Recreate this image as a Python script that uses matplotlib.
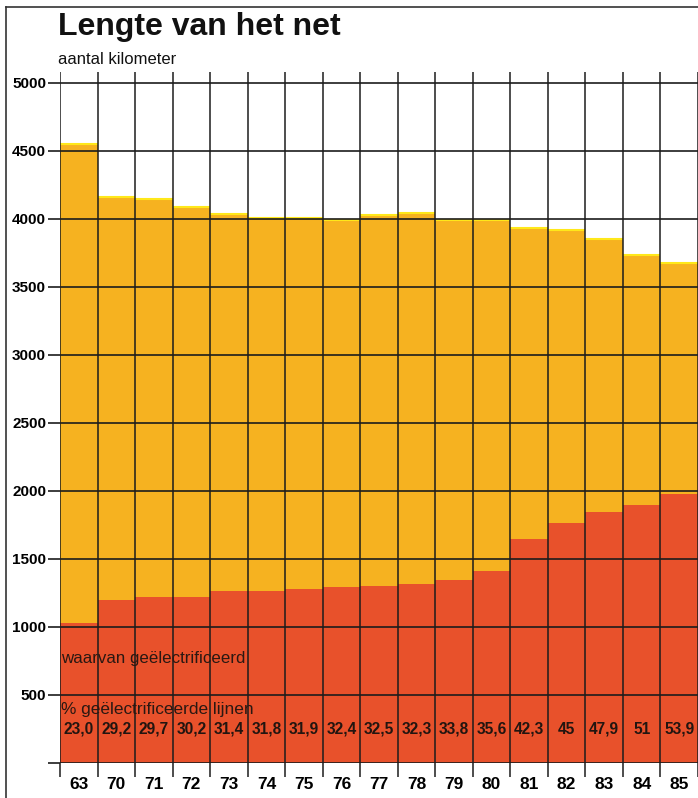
import numpy as np
import matplotlib.pyplot as plt
from matplotlib.lines import Line2D

# data
years = ['63', '70', '71', '72', '73', '74', '75', '76', '77', '78',
         '79', '80', '81', '82', '83', '84', '85']
total_km = [4555, 4165, 4150, 4085, 4040, 4010, 4005, 3995, 4027, 4045,
            3995, 3990, 3932, 3917, 3855, 3733, 3679]
electric_km = [1032, 1196, 1223, 1223, 1265, 1265, 1280, 1294, 1304, 1314,
               1343, 1412, 1650, 1762, 1849, 1900, 1981]
pct_labels = ['23,0', '29,2', '29,7', '30,2', '31,4', '31,8', '31,9', '32,4',
              '32,5', '32,3', '33,8', '35,6', '42,3', '45', '47,9', '51', '53,9']
yticks = [500, 1000, 1500, 2000, 2500, 3000, 3500, 4000, 4500, 5000]

yellow = '#f6b220'
red = '#e8512b'
ink = '#1c1c1c'
plt.rcParams['font.family'] = ['Liberation Sans', 'DejaVu Sans']

W, H = 698, 798
fig = plt.figure(figsize=(W / 100, H / 100), dpi=100)

# axes placed in pixel terms: x from 60 to right edge, y 0 at 763, 5000 at 83
x0, y0 = 60, 763
px_per_unit = (763 - 83) / 5000
ytop = 5080
ax_h = ytop * px_per_unit
ax = fig.add_axes([x0 / W, (H - y0) / H, (W - x0) / W, ax_h / H])

n = len(years)
x = np.arange(n)
colw = 37.75
ax.set_xlim(0, (W - x0) / colw)
ax.set_ylim(0, ytop)

ax.bar(x, total_km, width=1.0, align='edge', color=yellow, linewidth=0, zorder=1)
# thin bright rim on top of each column
ax.hlines(total_km, x, x + 1, colors='#ffe81a', linewidth=1.5, zorder=1.5)
ax.bar(x, electric_km, width=1.0, align='edge', color=red, linewidth=0, zorder=2)

# grid drawn over the columns
for yv in yticks:
    ax.axhline(yv, color=ink, linewidth=1.2, zorder=3)
ax.axhline(0, color=ink, linewidth=1.2, zorder=3)
for xv in range(n + 1):
    ax.axvline(xv, color=ink, linewidth=1.1, zorder=3)

for s in ax.spines.values():
    s.set_visible(False)

ax.set_yticks([0] + yticks)
ax.set_yticklabels([''] + [str(v) for v in yticks], fontsize=11, fontweight='bold')
ax.tick_params(axis='y', length=9, width=1.2, color=ink, pad=1)

ax.set_xticks(range(n + 1))
ax.set_xticklabels([])
ax.tick_params(axis='x', which='major', length=10, width=1.1, color=ink)
ax.set_xticks(x + 0.5, minor=True)
ax.set_xticklabels(years, minor=True, fontsize=12.5, fontweight='bold')
ax.tick_params(axis='x', which='minor', length=0, pad=10)

for i, p in enumerate(pct_labels):
    ax.text(i + 0.5, 250, p, ha='center', va='center', fontsize=11.2,
            fontweight='bold', color='#221510', zorder=4)

ax.text(0.02, 772, 'waarvan geëlectrificeerd', fontsize=12.2, color='#2a1812',
        va='center', ha='left', zorder=4)
ax.text(0.02, 393, '% geëlectrificeerde lijnen', fontsize=12.4, color='#2a1812',
        va='center', ha='left', zorder=4)

fig.text(58 / W, 1 - 27 / H, 'Lengte van het net', fontsize=23, fontweight='bold',
         va='center', ha='left', color='#111111')
fig.text(58 / W, 1 - 59 / H, 'aantal kilometer', fontsize=12, va='center',
         ha='left', color='#111111')

# page frame on the left and top
fig.add_artist(Line2D([6 / W, 6 / W], [0, 1 - 7 / H], color='#333333', linewidth=1.2))
fig.add_artist(Line2D([6 / W, 1], [1 - 7 / H, 1 - 7 / H], color='#333333', linewidth=1.2))

fig.savefig('out.png', dpi=100)
